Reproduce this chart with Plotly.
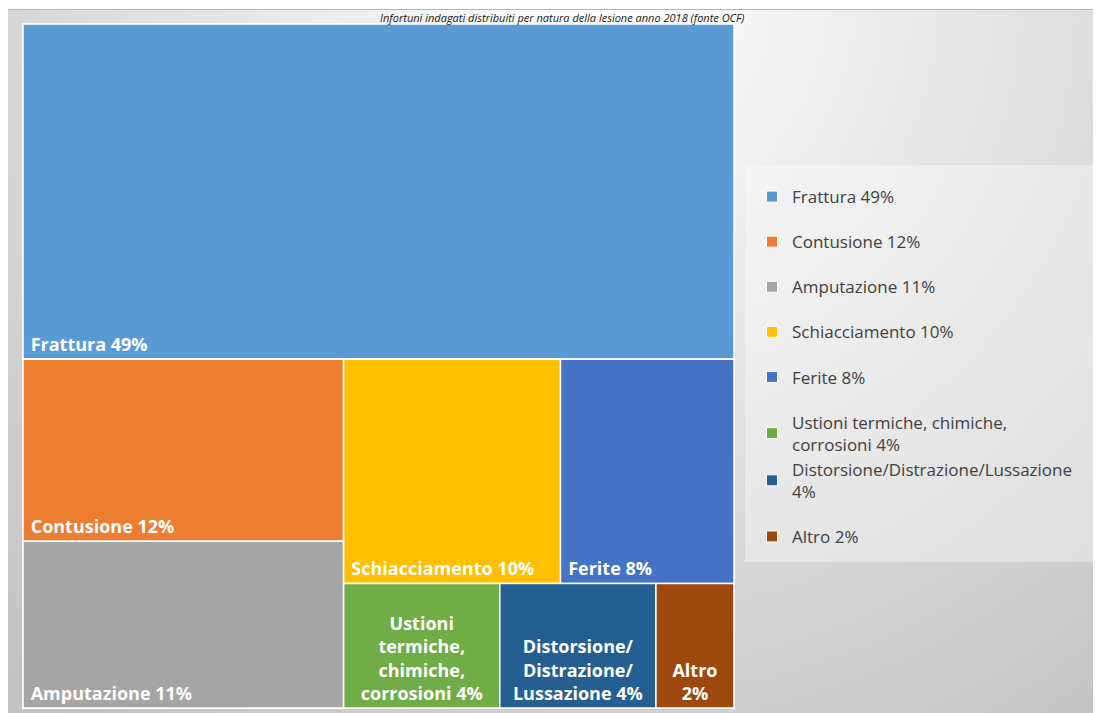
import base64
import plotly.graph_objects as go

# ---------------- data ----------------
categorie = ["Frattura", "Contusione", "Amputazione", "Schiacciamento", "Ferite",
             "Ustioni termiche, chimiche, corrosioni",
             "Distorsione/Distrazione/Lussazione", "Altro"]
percentuali = [49, 12, 11, 10, 8, 4, 4, 2]
colori = ["#5B9BD5", "#ED7D31", "#A5A5A5", "#FFC000", "#4472C4",
          "#70AD47", "#255E91", "#9E480E"]
etichette_riquadro = ["Frattura 49%", "Contusione 12%", "Amputazione 11%",
                      "Schiacciamento 10%", "Ferite 8%",
                      "Ustioni<br>termiche,<br>chimiche,<br>corrosioni 4%",
                      "Distorsione/<br>Distrazione/<br>Lussazione 4%",
                      "Altro<br>2%"]
etichette_legenda = ["Frattura 49%", "Contusione 12%", "Amputazione 11%",
                     "Schiacciamento 10%", "Ferite 8%",
                     "Ustioni termiche, chimiche,<br>corrosioni 4%",
                     "Distorsione/Distrazione/Lussazione<br>4%", "Altro 2%"]
# labels drawn centred (multi-line) vs bottom-left
etichetta_centrata = [False, False, False, False, False, True, True, True]
titolo = "Infortuni indagati distribuiti per natura della lesione anno 2018 (fonte OCF)"

# grouping nodes (only used to reproduce the tile arrangement)
gruppi = [("tot", ""), ("resto", "tot"), ("sx", "resto"), ("dx", "resto"),
          ("riga1", "dx"), ("riga2", "dx")]
genitore_categoria = ["tot", "sx", "sx", "riga1", "riga1", "riga2", "riga2", "riga2"]
# node order (children keep this order)
ordine = ["tot", 0, "resto", "sx", 1, 2, "dx", "riga1", 3, 4, "riga2", 5, 6, 7]

# ---------------- build hierarchy ----------------
gruppo_parent = dict(gruppi)
ids, parents, labels, values, cols, txt_a, txt_b = [], [], [], [], [], [], []
for n in ordine:
    if isinstance(n, str):
        ids.append(n); parents.append(gruppo_parent[n]); labels.append(n)
        values.append(0); cols.append("rgba(0,0,0,0)")
        txt_a.append(""); txt_b.append("")
    else:
        ids.append("c%d" % n); parents.append(genitore_categoria[n])
        labels.append(categorie[n]); values.append(percentuali[n]); cols.append(colori[n])
        if etichetta_centrata[n]:
            txt_a.append(""); txt_b.append(etichette_riquadro[n])
        else:
            txt_a.append("\u00a0" + etichette_riquadro[n]); txt_b.append("")

# figure size (page has an 8px body margin)
W, H = 1093, 705
OFF = 8


def fx(px):
    return (px - OFF) / W


def fy(py):
    return 1 - (py - OFF) / H


dom = dict(x=[fx(23), fx(734)], y=[fy(708), fy(24)])
font_tile = dict(family="Open Sans", size=18, color="white", weight="bold")

fig = go.Figure()
fig.add_trace(go.Treemap(
    ids=ids, parents=parents, labels=labels, values=values,
    branchvalues="remainder", sort=False,
    text=txt_a, textinfo="text", textposition="bottom left",
    insidetextfont=font_tile,
    marker=dict(colors=cols, line=dict(color="white", width=1.5),
                pad=dict(t=0, l=0, r=0, b=0)),
    tiling=dict(packing="dice-slice", pad=0),
    pathbar=dict(visible=False), domain=dom, hoverinfo="skip",
))
fig.add_trace(go.Treemap(
    ids=ids, parents=parents, labels=labels, values=values,
    branchvalues="remainder", sort=False,
    text=txt_b, textinfo="text", textposition="bottom center",
    insidetextfont=font_tile,
    marker=dict(colors=["rgba(0,0,0,0)"] * len(ids), line=dict(width=0),
                pad=dict(t=0, l=0, r=0, b=0)),
    tiling=dict(packing="dice-slice", pad=0),
    pathbar=dict(visible=False), domain=dom, hoverinfo="skip",
))

# legend entries
gruppi_legenda = ["g0", "g1", "g2", "g3", "g4", "g5", "g5", "g7"]
for i in range(len(categorie)):
    fig.add_trace(go.Scatter(
        x=[None], y=[None], mode="markers", name=etichette_legenda[i],
        legendgroup=gruppi_legenda[i],
        marker=dict(symbol="square", size=11, color=colori[i],
                    line=dict(color="white", width=1)),
        hoverinfo="skip",
    ))

# background panel (gradient)
svg = f'''<svg xmlns="http://www.w3.org/2000/svg" width="{W}" height="{H}" viewBox="0 0 {W} {H}" preserveAspectRatio="none">
<defs><radialGradient id="g" gradientUnits="userSpaceOnUse" cx="592" cy="-8" r="900">
<stop offset="0" stop-color="#ffffff"/><stop offset="1" stop-color="#c2c2c2"/></radialGradient></defs>
<rect x="0" y="0" width="{W}" height="{H}" fill="#ffffff"/>
<rect x="0" y="1" width="{W}" height="{H-1}" fill="url(#g)"/>
<line x1="0" y1="1.5" x2="{W}" y2="1.5" stroke="#b4b4b4" stroke-width="1"/>
</svg>'''
uri = "data:image/svg+xml;base64," + base64.b64encode(svg.encode()).decode()

fig.update_layout(
    width=W, height=H,
    margin=dict(l=0, r=0, t=0, b=0),
    paper_bgcolor="white", plot_bgcolor="rgba(0,0,0,0)",
    xaxis=dict(visible=False, range=[0, 1]), yaxis=dict(visible=False, range=[0, 1]),
    images=[dict(source=uri, xref="paper", yref="paper", x=0, y=1, sizex=1, sizey=1,
                 xanchor="left", yanchor="top", sizing="stretch", layer="below")],
    shapes=[dict(type="rect", xref="paper", yref="paper",
                 x0=fx(745), x1=fx(1098), y0=fy(562), y1=fy(165),
                 fillcolor="rgba(255,255,255,0.35)", line=dict(width=0), layer="below")],
    showlegend=True,
    legend=dict(x=fx(752), y=fy(179), xanchor="left", yanchor="top",
                bgcolor="rgba(0,0,0,0)", font=dict(family="Open Sans", size=17, color="#404040"),
                tracegroupgap=20, itemwidth=30, traceorder="grouped"),
    annotations=[dict(text=titolo, xref="paper", yref="paper", x=fx(562), y=fy(9),
                      xanchor="center", yanchor="top", showarrow=False, borderpad=0,
                      font=dict(family="Open Sans", size=11, color="#1a1a1a", style="italic"))],
)

fig.write_html("out.html")
